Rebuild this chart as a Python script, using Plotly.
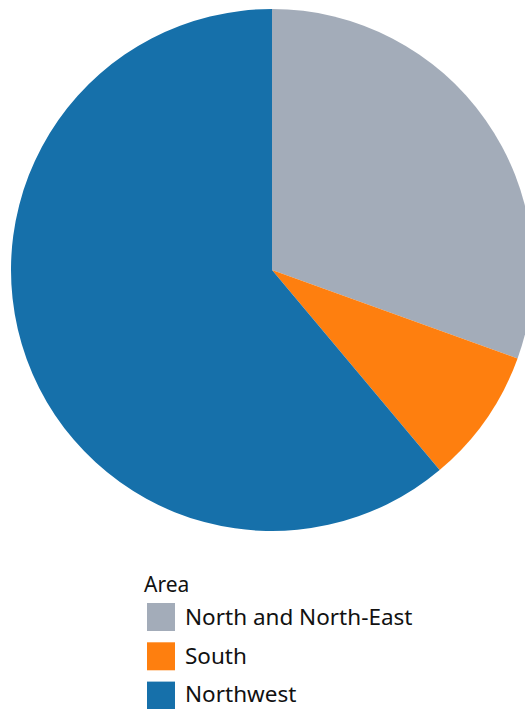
import plotly.graph_objects as go

areas = ["North and North-East", "South", "Northwest"]
shares = [30.5, 8.4, 61.1]
colors = ["#a3acb9", "#fe7f0f", "#1670aa"]
legend_title = "Area"

W, H = 533, 709
ML, MR, MT, MB = 11, 0, 9, 178
PW = W - ML - MR
PH = H - MT - MB

def px(x):
    return (x - ML) / PW

def py(y):
    return (H - MB - y) / PH

fig = go.Figure(go.Pie(
    labels=areas, values=shares, sort=False, direction="clockwise", rotation=0,
    marker=dict(colors=colors, line=dict(width=0)), textinfo="none",
    hoverinfo="label+percent", showlegend=False,
    domain=dict(x=[0, 1], y=[0, 1]),
))

font = "Noto Sans, Open Sans, sans-serif"
shapes = []
annotations = [dict(text=legend_title, x=px(142), y=py(584), xref="paper", yref="paper",
                    xanchor="left", yanchor="middle", showarrow=False,
                    font=dict(family=font, size=21, color="#111"))]
for i, (lab, col) in enumerate(zip(areas, colors)):
    cy = 617 + i * 39.3
    shapes.append(dict(type="rect", xref="paper", yref="paper",
                       x0=px(147), x1=px(175), y0=py(cy - 14), y1=py(cy + 14),
                       fillcolor=col, line=dict(width=0)))
    ty = min(cy - 1, 693)
    annotations.append(dict(text=lab, x=px(183), y=py(ty), xref="paper", yref="paper",
                            xanchor="left", yanchor="middle", showarrow=False,
                            font=dict(family=font, size=22.5, color="#111")))

fig.update_layout(width=W, height=H, margin=dict(l=ML, r=MR, t=MT, b=MB),
                  paper_bgcolor="white", plot_bgcolor="white",
                  shapes=shapes, annotations=annotations)

fig.write_html("out.html", config=dict(displayModeBar=False),
               post_script="document.body.style.margin='0';document.body.style.overflow='hidden';document.documentElement.style.overflow='hidden';")
